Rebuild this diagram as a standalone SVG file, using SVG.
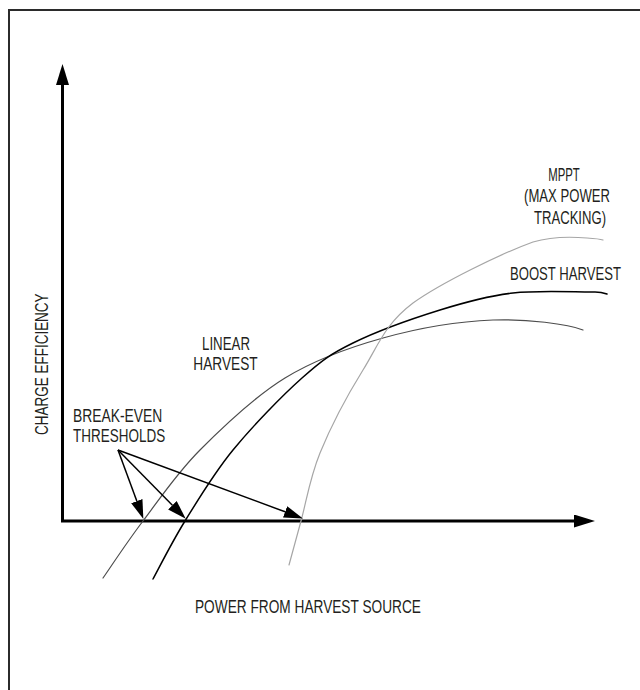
<svg xmlns="http://www.w3.org/2000/svg" width="640" height="690" viewBox="0 0 640 690">
<style>
text{font-family:"Liberation Sans",Arial,sans-serif;font-size:19px;fill:#231f20}
.mid{text-anchor:middle}
.frame{fill:none;stroke:#2b2b2b;stroke-width:2}
.axis{fill:none;stroke:#000;stroke-width:3}
.ptr{fill:none;stroke:#000;stroke-width:1.5}
.curve{fill:none;stroke-linecap:round}
</style>
<defs>
<marker id="axhead" markerUnits="userSpaceOnUse" markerWidth="21" markerHeight="13" refX="0" refY="6.5" orient="auto">
<path d="M0,0 L21,6.5 L0,13 Z" fill="#000"/>
</marker>
<marker id="ptrhead" markerUnits="userSpaceOnUse" markerWidth="19" markerHeight="12" refX="0" refY="6" orient="auto">
<path d="M0,0 L19,6 L0,12 Z" fill="#000"/>
</marker>
</defs>
<rect width="640" height="690" fill="#fff"/>
<path class="frame" d="M9,690 L9,10 L640,10"/>
<g id="axes">
<line class="axis" x1="62.5" y1="522" x2="62.5" y2="85" marker-end="url(#axhead)"/>
<line class="axis" x1="61" y1="521" x2="574" y2="521" marker-end="url(#axhead)"/>
</g>
<g id="curves">
<path id="linear-curve" class="curve" stroke="#4d4d4d" stroke-width="1.2" d="M103,578 C109.7,568.5 126.8,542.3 143,521 C159.2,499.7 176.3,473.8 200,450 C223.7,426.2 254.5,396.7 285,378 C315.5,359.3 348.3,347.7 383,338 C417.7,328.3 459.7,321.3 493,320 C526.3,318.7 568,324 583,330"/>
<path id="boost-curve" class="curve" stroke="#000" stroke-width="1.5" d="M153,579 C158.3,569.3 171.7,542.5 185,521 C198.3,499.5 213.5,473.8 233,450 C252.5,426.2 282,395.8 302,378 C322,360.2 330,354.3 353,343 C376,331.7 413.3,318.3 440,310 C466.7,301.7 487.5,296 513,293 C538.5,290 577.3,292.2 593,292 C600,291.6 604.7,293.2 607,294"/>
<path id="mppt-curve" class="curve" stroke="#a6a6a6" stroke-width="1.2" d="M289,565 C291,557.7 295.8,539.7 301,521 C306.2,502.3 309.7,478.2 320,453 C330.3,427.8 347.5,395 363,370 C378.5,345 384.7,324.3 413,303 C441,283 500,254 533,242 C553,236 575,237 587,238 C595,238.5 600,239 603,240"/>
</g>
<g id="connectors">
<line class="ptr" x1="118" y1="450" x2="136.8" y2="501.1" marker-end="url(#ptrhead)"/>
<line class="ptr" x1="118" y1="450" x2="172.4" y2="505.2" marker-end="url(#ptrhead)"/>
<line class="ptr" x1="118" y1="450" x2="285.1" y2="511.8" marker-end="url(#ptrhead)"/>
</g>
<g id="label-mppt">
<text class="mid" transform="translate(564,181) scale(0.6,1)">MPPT</text>
<text class="mid" transform="translate(567,202) scale(0.69,1)">(MAX POWER</text>
<text class="mid" transform="translate(570,224) scale(0.69,1)">TRACKING)</text>
</g>
<g id="label-boost">
<text transform="translate(510,280) scale(0.69,1)">BOOST HARVEST</text>
</g>
<g id="label-linear">
<text class="mid" transform="translate(226,350) scale(0.7,1)">LINEAR</text>
<text class="mid" transform="translate(225.5,370) scale(0.72,1)">HARVEST</text>
</g>
<g id="label-breakeven">
<text transform="translate(73,422) scale(0.73,1)">BREAK-EVEN</text>
<text transform="translate(73,442) scale(0.71,1)">THRESHOLDS</text>
</g>
<g id="label-x">
<text transform="translate(195,613) scale(0.72,1)">POWER FROM HARVEST SOURCE</text>
</g>
<g id="label-y">
<text transform="translate(48,435) rotate(-90) scale(0.71,1)">CHARGE EFFICIENCY</text>
</g>
</svg>
